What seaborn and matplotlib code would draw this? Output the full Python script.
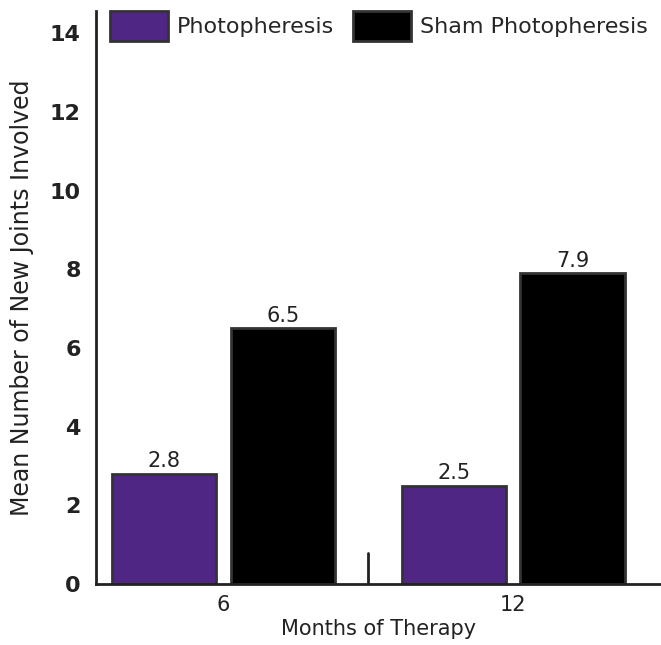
import pandas as pd
import numpy as np
import matplotlib.pyplot as plt
import seaborn as sns

# Datos
months = ["6", "12"]
photopheresis = [2.8, 2.5]
sham = [6.5, 7.9]
groups = ["Photopheresis", "Sham Photopheresis"]
y_ticks = [0, 2, 4, 6, 8, 10, 12, 14]

df = pd.DataFrame({
    "Months": months * 2,
    "Value": photopheresis + sham,
    "Group": [groups[0]] * len(months) + [groups[1]] * len(months),
})

sns.set_style("white")
plt.rcParams['font.family'] = ['DejaVu Sans']

fig = plt.figure(figsize=(6.61, 6.45), dpi=100)
ax = fig.add_axes([0.1452, 0.0946, 0.8548, 0.889])

sns.barplot(data=df, x="Months", y="Value", hue="Group", order=months,
            palette=["#4f2683", "#000000"], saturation=1, width=0.82, gap=0.12,
            edgecolor="#333333", linewidth=2, ax=ax)

for cont in ax.containers:
    ax.bar_label(cont, fmt="%.1f", padding=2, fontsize=15, color="#222222")

# separador entre grupos
ax.plot([0.5, 0.5], [0, 0.78], color="#222222", lw=2)

ax.set_xlim(-0.44, 1.51)
ax.set_ylim(0, 14.58)
ax.set_yticks(y_ticks)
ax.set_yticklabels([str(t) for t in y_ticks], fontsize=16, fontweight='bold', color="#222222")
ax.tick_params(axis='x', labelsize=15, length=0, pad=8, labelcolor="#222222")
ax.tick_params(axis='y', length=0, pad=11)
ax.set_xlabel("Months of Therapy", fontsize=15, labelpad=3, color="#222222")
ax.set_ylabel("Mean Number of New Joints Involved", fontsize=17, labelpad=11, color="#222222")
sns.despine(ax=ax)
for s in ["left", "bottom"]:
    ax.spines[s].set_color("#222222")
    ax.spines[s].set_linewidth(2)

ax.legend(loc="upper left", bbox_to_anchor=(0.025, 1.0), ncol=2, frameon=False,
          fontsize=16, handlelength=2.6, handleheight=1.75, handletextpad=0.4,
          columnspacing=0.85, borderaxespad=0, borderpad=0)

fig.savefig("out.png", dpi=100)
